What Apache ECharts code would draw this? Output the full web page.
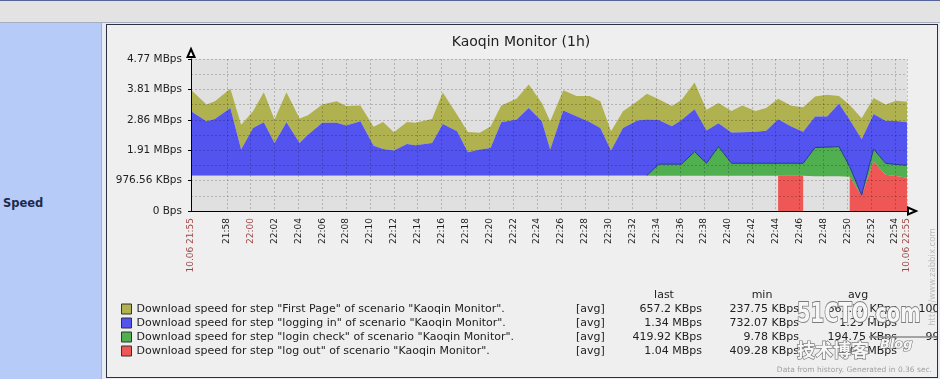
<!DOCTYPE html>
<html><head><meta charset="utf-8">
<script src="https://cdn.jsdelivr.net/npm/echarts@6/dist/echarts.min.js"></script>
<style>
html,body{margin:0;padding:0;width:940px;height:379px;overflow:hidden;background:#e8ebf2;}
#topline{position:absolute;left:0;top:0;width:940px;height:1px;background:#55659a;}
#topbar{position:absolute;left:0;top:1px;width:940px;height:21px;background:#e3e3e3;}
#topsep{position:absolute;left:0;top:22px;width:940px;height:1px;background:#a7aec2;}
#leftpanel{position:absolute;left:0;top:23px;width:101px;height:356px;background:#b7cbf9;}
#leftsep{position:absolute;left:101px;top:23px;width:1px;height:356px;background:#a3aecb;}
#speed{position:absolute;left:3px;top:196px;font:bold 11.5px 'DejaVu Sans';line-height:14px;color:#1c2a4d;}
#frame{position:absolute;left:106px;top:24px;width:832px;height:354px;box-sizing:border-box;border:1px solid #2b2f40;background:#efefef;}
#chart{position:absolute;left:107px;top:25px;width:830px;height:352px;}
</style></head>
<body>
<div id="topline"></div><div id="topbar"></div><div id="topsep"></div>
<div id="leftpanel"></div><div id="leftsep"></div>
<div id="speed">Speed</div>
<div id="frame"></div>
<div id="chart"></div>
<script>
// time in minutes after 10.06 21:55; values in 10^6 bytes per second
var times = [0,1.3,2,3.3,4.2,5.2,6.1,7,8,9.1,9.8,11,12.2,13,14.2,15.3,16.1,17,18.1,18.8,20.2,21.1,22.3,23.2,24.2,25.1,26,27.3,28.3,29.4,30.1,31.2,32.3,33.4,34.3,35.2,36.2,37.4,38.2,39.2,40.3,41.1,42.2,43.2,44.2,45.3,46.2,47.3,48.2,49.2,50.3,51.3,52.3,53.3,54.3,55.2,56.2,57.2,58.2,59.1,60];
var firstPage = [0.71,0.55,0.58,0.63,0.82,0.55,0.99,0.77,0.99,0.80,0.64,0.60,0.71,0.64,0.52,0.62,0.89,0.60,0.73,0.74,0.79,1.04,0.55,0.67,0.55,0.71,0.55,0.69,0.77,0.60,0.93,0.66,0.66,0.85,0.88,0.63,0.55,0.63,0.85,0.69,0.66,0.66,0.88,0.68,0.66,0.71,0.88,0.68,0.75,0.67,0.68,0.80,0.66,0.71,0.25,0.49,0.69,0.53,0.53,0.67,0.67];
var loggingIn = [2.11,1.78,1.86,2.22,0.85,1.56,1.75,1.07,1.75,1.07,1.34,1.73,1.73,1.64,1.78,0.98,0.87,0.82,1.03,0.99,1.07,1.69,1.45,0.76,0.85,0.90,1.75,1.84,2.22,1.78,0.85,2.14,1.95,1.76,1.56,0.82,1.56,1.81,1.84,1.45,1.25,1.45,1.40,1.08,0.77,1.01,1.02,1.04,1.07,1.45,1.21,1.04,1.02,1.01,1.41,1.54,1.84,1.15,1.40,1.43,1.41];
var loginCheck = [0.01,0.01,0.01,0.01,0.01,0.01,0.01,0.01,0.01,0.01,0.01,0.01,0.01,0.01,0.01,0.01,0.01,0.01,0.01,0.01,0.01,0.01,0.01,0.01,0.01,0.01,0.01,0.01,0.01,0.01,0.01,0.01,0.01,0.01,0.01,0.01,0.01,0.01,0.01,0.38,0.38,0.38,0.79,0.41,0.96,0.41,0.41,0.41,0.41,0.41,0.41,0.41,0.95,0.96,0.98,0.33,0.02,0.41,0.38,0.38,0.42];
var logOut = [1.16,1.16,1.16,1.16,1.16,1.16,1.16,1.16,1.16,1.16,1.16,1.16,1.16,1.16,1.16,1.16,1.16,1.16,1.16,1.16,1.16,1.16,1.16,1.16,1.16,1.16,1.16,1.16,1.16,1.16,1.16,1.16,1.16,1.16,1.16,1.16,1.16,1.16,1.16,1.16,1.16,1.16,1.16,1.16,1.16,1.16,1.16,1.16,1.16,1.16,1.16,1.16,1.14,1.14,1.14,1.13,0.50,1.63,1.19,1.15,1.09];
var logOutDrawn = [[49.2,51.3],[55.2,60]];
var seriesNames = [
  'Download speed for step "First Page" of scenario "Kaoqin Monitor".',
  'Download speed for step "logging in" of scenario "Kaoqin Monitor".',
  'Download speed for step "login check" of scenario "Kaoqin Monitor".',
  'Download speed for step "log out" of scenario "Kaoqin Monitor".'
];
var seriesColors = ['#b0b14f','#5353ef','#50b050','#ef5656'];
var xTickValues = [0,3,5,7,9,11,13,15,17,19,21,23,25,27,29,31,33,35,37,39,41,43,45,47,49,51,53,55,57,59,60];
var xTickLabels = ['10.06 21:55','21:58','22:00','22:02','22:04','22:06','22:08','22:10','22:12','22:14','22:16','22:18','22:20','22:22','22:24','22:26','22:28','22:30','22:32','22:34','22:36','22:38','22:40','22:42','22:44','22:46','22:48','22:50','22:52','22:54','10.06 22:55'];
var xRedTicks = [0,5,60];
var yTickLabels = ['0 Bps','976.56 KBps','1.91 MBps','2.86 MBps','3.81 MBps','4.77 MBps'];
var statHeaders = ['last','min','avg'];
var statFunc = ['[avg]','[avg]','[avg]','[avg]'];
var statLast = ['657.2 KBps','1.34 MBps','419.92 KBps','1.04 MBps'];
var statMin = ['237.75 KBps','732.07 KBps','9.78 KBps','409.28 KBps'];
var statAvg = ['662.27 KBps','1.29 MBps','194.75 KBps','1.08 MBps'];
var statMax = ['1004.88 KBps','2.12 MBps','994.14 KBps','1.55 MBps'];
var titleText = 'Kaoqin Monitor (1h)';
var footerText = 'Data from history. Generated in 0.36 sec.';

var FONT = '"DejaVu Sans", sans-serif';
// stacked layers (bottom to top: log out, login check, logging in, first page)
function addArr(a, b){ return a.map(function(v,i){ return v + b[i]; }); }
var zeros = times.map(function(){ return 0; });
var cum1 = logOut.slice();
var cum2 = addArr(cum1, loginCheck);
var cum3 = addArr(cum2, loggingIn);
var cum4 = addArr(cum3, firstPage);

function bandPoints(api, lower, upper, i0, i1){
  var pts = [];
  for (var i = i0; i <= i1; i++) pts.push(api.coord([times[i], upper[i]]));
  for (var j = i1; j >= i0; j--) pts.push(api.coord([times[j], lower[j]]));
  return pts;
}
function bandSeries(name, color, lower, upper, ranges){
  return {
    name:name, type:'custom', coordinateSystem:'cartesian2d', silent:true,
    itemStyle:{color:color}, data:[[times[0], 0]], encode:{x:0, y:1},
    renderItem:function(params, api){
      var rs = ranges || [[0, times.length-1]];
      var children = rs.map(function(r){
        return {type:'polygon', shape:{points:bandPoints(api, lower, upper, r[0], r[1])}, style:{fill:color, stroke:null}};
      });
      return {type:'group', children:children};
    }
  };
}
function idxRanges(test){
  var out = [], start = -1;
  for (var i = 0; i < times.length; i++){
    if (test(i)) { if (start < 0) start = i; }
    else if (start >= 0) { out.push([start, i-1]); start = -1; }
  }
  if (start >= 0) out.push([start, times.length-1]);
  return out;
}
var redRanges = idxRanges(function(i){ return logOutDrawn.some(function(r){ return times[i] >= r[0]-1e-9 && times[i] <= r[1]+1e-9; }); });
var greenOn = function(i){ return loginCheck[i] > 0.05 || (i>0 && loginCheck[i-1] > 0.05) || (i<times.length-1 && loginCheck[i+1] > 0.05); };
var outlineRanges = idxRanges(greenOn);

var chart = echarts.init(document.getElementById('chart'), null, {renderer:'canvas'});
var rowsY = [284,298,312,326];
var graphics = [
  {type:'text', x:414, y:17, style:{text:titleText, font:'14px '+FONT, fill:'#222', align:'center', verticalAlign:'middle'}},
  {type:'text', x:557, y:270, style:{text:statHeaders[0], font:'11px '+FONT, fill:'#222', align:'center', verticalAlign:'middle'}},
  {type:'text', x:655, y:270, style:{text:statHeaders[1], font:'11px '+FONT, fill:'#222', align:'center', verticalAlign:'middle'}},
  {type:'text', x:751, y:270, style:{text:statHeaders[2], font:'11px '+FONT, fill:'#222', align:'center', verticalAlign:'middle'}},
  {type:'text', x:825, y:345, style:{text:footerText, font:'7.5px '+FONT, fill:'#a0a0a0', align:'right', verticalAlign:'middle'}},
  {type:'text', x:826, y:252, rotation:Math.PI/2, style:{text:'http://www.zabbix.com', font:'8.5px '+FONT, fill:'#bdbdbd', align:'center', verticalAlign:'middle'}}
];
rowsY.forEach(function(y,i){
  graphics.push({type:'text', x:469, y:y, style:{text:statFunc[i], font:'11px '+FONT, fill:'#222', align:'left', verticalAlign:'middle'}});
  graphics.push({type:'text', x:595, y:y, style:{text:statLast[i], font:'11px '+FONT, fill:'#222', align:'right', verticalAlign:'middle'}});
  graphics.push({type:'text', x:692, y:y, style:{text:statMin[i], font:'11px '+FONT, fill:'#222', align:'right', verticalAlign:'middle'}});
  graphics.push({type:'text', x:790, y:y, style:{text:statAvg[i], font:'11px '+FONT, fill:'#222', align:'right', verticalAlign:'middle'}});
  graphics.push({type:'text', x:888, y:y, style:{text:statMax[i], font:'11px '+FONT, fill:'#222', align:'right', verticalAlign:'middle'}});
});
// 51CTO watermark overlay
graphics.push({type:'line', z:100, shape:{x1:762,y1:312,x2:830,y2:312}, style:{stroke:'#8a8a8a', lineWidth:1.5}});
graphics.push({type:'text', z:101, x:690, y:290, scaleX:0.75, style:{text:'51CTO.com', font:'bold 26px "DejaVu Sans",sans-serif', fill:'#f6f6f6', stroke:'#7c7c7c', lineWidth:1.8, align:'left', verticalAlign:'middle'}});
graphics.push({type:'text', z:101, x:690, y:325, style:{text:'技术博客', font:'bold 18px "Noto Sans CJK SC",sans-serif', fill:'#f6f6f6', stroke:'#7c7c7c', lineWidth:1.4, align:'left', verticalAlign:'middle'}});
graphics.push({type:'text', z:101, x:773, y:320, style:{text:'Blog', font:'italic bold 13px "DejaVu Sans",sans-serif', fill:'#f6f6f6', stroke:'#7c7c7c', lineWidth:1.2, align:'left', verticalAlign:'middle'}});

// grid is drawn over the filled regions, as a translucent dashed line
var gridLine = {color:'rgba(0,0,0,0.2)', width:1, type:[2,2]};
var series = [
  bandSeries(seriesNames[0], seriesColors[0], cum3, cum4),
  bandSeries(seriesNames[1], seriesColors[1], cum2, cum3),
  bandSeries(seriesNames[2], seriesColors[2], cum1, cum2),
  bandSeries(seriesNames[3], seriesColors[3], zeros, cum1, redRanges),
  {
    name:'outline', type:'custom', coordinateSystem:'cartesian2d', silent:true, z:3,
    data:[[times[0], 0]], encode:{x:0, y:1},
    renderItem:function(params, api){
      return {type:'group', children: outlineRanges.map(function(r){
        var pts = [];
        for (var i = r[0]; i <= r[1]; i++) pts.push(api.coord([times[i], cum2[i]]));
        return {type:'polyline', shape:{points:pts}, style:{stroke:'#26359a', lineWidth:1, fill:null}};
      })};
    }
  }
];
chart.setOption({
  animation:false,
  backgroundColor:'#efefef',
  textStyle:{fontFamily:FONT},
  grid:{left:84, top:34, width:716, height:152, show:true, backgroundColor:'#e0e0e0', borderWidth:0},
  legend:{
    orient:'vertical', left:14, top:277, padding:0, itemWidth:10, itemHeight:10, itemGap:0, icon:'rect',
    selectedMode:false, data:seriesNames,
    itemStyle:{borderColor:'#333', borderWidth:1},
    textStyle:{fontSize:11, fontFamily:FONT, color:'#222', lineHeight:14}
  },
  xAxis:{
    type:'value', min:0, max:60, z:5,
    axisLine:{show:true, onZero:false, lineStyle:{color:'#000', width:1}, symbol:['none','emptyTriangle'], symbolSize:[7,8], symbolOffset:[0,5]},
    axisTick:{show:false, customValues:xTickValues},
    axisLabel:{
      customValues:xTickValues, rotate:90, margin:7, fontSize:9, fontFamily:FONT,
      showMinLabel:true, showMaxLabel:true,
      formatter:function(v){ var i = xTickValues.indexOf(Number(v)); return i>=0 ? xTickLabels[i] : ''; },
      color:function(v){ return xRedTicks.indexOf(Number(v))>=0 ? '#a04848' : '#222'; }
    },
    splitLine:{show:true, lineStyle:gridLine}
  },
  yAxis:{
    type:'value', min:0, max:5, interval:1, z:5,
    axisLine:{show:true, onZero:false, lineStyle:{color:'#000', width:1}, symbol:['none','emptyTriangle'], symbolSize:[7,8], symbolOffset:[0,6]},
    axisTick:{show:true, length:3, lineStyle:{color:'#000'}},
    axisLabel:{fontSize:10.5, fontFamily:FONT, color:'#222', margin:9,
      formatter:function(v){ return yTickLabels[Math.round(v)]; }},
    splitLine:{show:true, lineStyle:gridLine},
    minorTick:{show:false, splitNumber:2},
    minorSplitLine:{show:true, lineStyle:gridLine}
  },
  graphic:graphics,
  series:series
});
</script>
</body></html>
